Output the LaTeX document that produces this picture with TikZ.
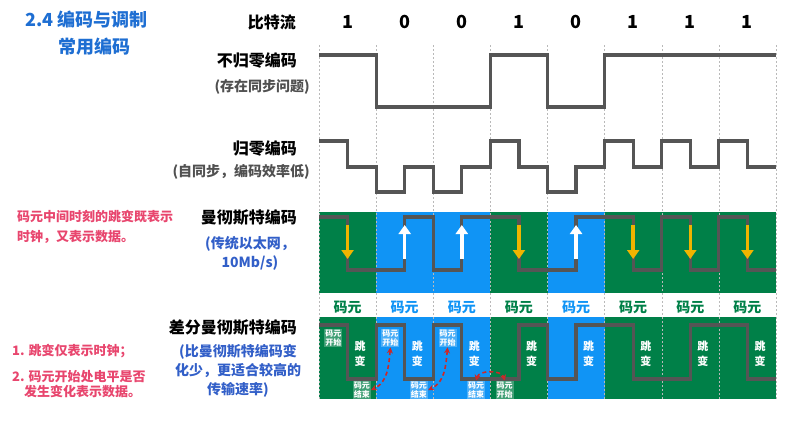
\documentclass[tikz,border=0pt]{standalone}
\usepackage{fontspec}
\setmainfont{Noto Sans CJK SC}
\usepackage{tikz}
\usetikzlibrary{arrows.meta, positioning}
\definecolor{wavegray}{RGB}{85,85,85}
\definecolor{cellgreen}{RGB}{0,128,72}
\definecolor{cellblue}{RGB}{16,148,245}
\definecolor{titleblue}{RGB}{30,110,210}
\definecolor{noteblue}{RGB}{50,95,200}
\definecolor{notepink}{RGB}{232,70,110}
\definecolor{arrowamber}{RGB}{240,180,0}
\definecolor{dashred}{RGB}{205,40,40}
\definecolor{gridgray}{RGB}{185,185,185}
\definecolor{subgray}{RGB}{80,80,80}
\tikzset{
  titletext/.style={font=\fontsize{18}{20}\selectfont\bfseries, color=titleblue},
  rowname/.style={font=\fontsize{16}{18}\selectfont\bfseries, anchor=east, inner sep=0pt},
  rownote/.style={font=\fontsize{14}{16}\selectfont\bfseries, color=subgray, anchor=east, inner sep=0pt},
  bluenote/.style={font=\fontsize{14}{19}\selectfont\bfseries, color=noteblue, align=center, inner sep=0pt},
  pinknote/.style={font=\fontsize{13}{14.5}\selectfont\bfseries, color=notepink, align=left, anchor=west, inner sep=0pt},
  bitdigit/.style={font=\fontsize{18}{20}\selectfont\bfseries},
  celltag/.style={font=\fontsize{14}{16}\selectfont\bfseries},
  gridline/.style={thin, color=gridgray, dash pattern=on 2pt off 2pt},
  wave/.style={line width=3.2pt, color=wavegray, line join=miter},
  fallarrow/.style={-{Triangle[width=12pt,length=9pt]}, line width=3.6pt, color=arrowamber},
  risearrow/.style={-{Triangle[width=12pt,length=9pt]}, line width=3.6pt, color=white},
  edgetag/.style={font=\fontsize{8}{9}\selectfont\bfseries, text=white, fill=white,
    fill opacity=0.25, text opacity=1, inner sep=1pt, align=center},
  jumptag/.style={font=\fontsize{11}{15}\selectfont\bfseries, text=white, align=center, inner sep=0pt},
  linkarrow/.style={{Stealth[length=6pt,width=6pt]}-{Stealth[length=6pt,width=6pt]},
    dash pattern=on 4pt off 3pt, line width=1.6pt, color=dashred}
}
\begin{document}
\begin{tikzpicture}[x=1pt, y=-1pt]
  \useasboundingbox (0,0) rectangle (803,431);

  % Titles
  \node[titletext, anchor=west] (title) at (22,20) {2.4 编码与调制};
  \node[titletext] (subtitle) at (94,47) {常用编码};

  % Row names and notes
  \node[rowname] (bitrow) at (296,22) {比特流};
  \node[rowname] (nrz) at (297,60) {不归零编码};
  \node[rownote] (nrznote) at (310,87) {(存在同步问题)};
  \node[rowname] (rz) at (297,148) {归零编码};
  \node[rownote] (rznote) at (310,172) {(自同步，编码效率低)};
  \node[rowname] (manch) at (297,218) {曼彻斯特编码};
  \node[bluenote] (manchnote) at (250,253) {(传统以太网，\\10Mb/s)};
  \node[rowname] (diff) at (297,328) {差分曼彻斯特编码};
  \node[bluenote] (diffnote) at (238,371) {(比曼彻斯特编码变\\化少，更适合较高的\\传输速率)};

  % Side remarks
  \node[pinknote, font=\fontsize{13}{20}\selectfont\bfseries] (manchhint) at (17,227) {码元中间时刻的跳变既表示\\时钟，又表示数据。};
  \node[pinknote] (diffhint1) at (12,351) {1. 跳变仅表示时钟；};
  \node[pinknote] (diffhint2) at (12,384) {2. 码元开始处电平是否\\\hspace*{12pt}发生变化表示数据。};

  \begin{scope}[xshift=319pt, x=57.125pt]
    % Cell backgrounds
    \foreach \i/\c in {0/cellgreen, 1/cellblue, 2/cellblue, 3/cellgreen, 4/cellblue, 5/cellgreen, 6/cellgreen, 7/cellgreen} {
      \fill[\c] (\i,211.7) rectangle (\i+1,293);
      \fill[\c] (\i,316.7) rectangle (\i+1,399);
      \node[celltag, text=\c] (cell\i) at (\i+0.5,307) {码元};
    }
    % Bit grid
    \foreach \i in {0,...,8} \draw[gridline] (\i,45) -- (\i,400);
    \foreach \b [count=\i from 0] in {1,0,0,1,0,1,1,1}
      \node[bitdigit] (bit\i) at (\i+0.5,22) {\b};

    % NRZ
    \draw[wave] (0,55) -| (1,107) -| (3,55) -| (4,107) -| (5,55) -- (8,55);
    % RZ
    \draw[wave] (0,141) -| (.5,167) -| (1,192) -| (1.5,167) -| (2,192) -| (2.5,167)
      -| (3,141) -| (3.5,167) -| (4,192) -| (4.5,167) -| (5,141) -| (5.5,167)
      -| (6,141) -| (6.5,167) -| (7,141) -| (7.5,167) -- (8,167);
    % Manchester
    \draw[wave] (0,217) -| (.5,270) -| (1.5,217) -| (2,270) -| (2.5,217) -| (3.5,270)
      -| (4.5,217) -| (5.5,270) -| (6,217) -| (6.5,270) -| (7,217) -| (7.5,270) -- (8,270);
    \foreach \i in {0,3,5,6,7} \draw[fallarrow] (\i+0.5,225) -- (\i+0.5,259);
    \foreach \i in {1,2,4} \draw[risearrow] (\i+0.5,259) -- (\i+0.5,225);
    % Differential Manchester
    \draw[wave] (0,325) -| (.5,379) -| (1,325) -| (1.5,379) -| (2,325) -| (2.5,379)
      -| (3.5,325) -| (4,379) -| (4.5,325) -| (5.5,379) -| (6.5,325) -| (7.5,379) -- (8,379);

    % Cell start / end tags
    \foreach \i in {0,1,2} {
      \node[edgetag] (start\i) at (\i+0.25,338) {码元\\开始};
      \node[edgetag] (end\i) at (\i+0.75,390) {码元\\结束};
    }
    \node[edgetag] (start3) at (3.25,390) {码元\\开始};
    \foreach \i in {0,...,7} \node[jumptag] (jump\i) at (\i+0.72,354) {跳\\变};

    % Links between tags
    \draw[linkarrow] (start1.south) to[out=-95, in=25] (end0.east);
    \draw[linkarrow] (start2.south) to[out=-95, in=25] (end1.east);
    \draw[linkarrow] (end2.north) to[out=75, in=105] (start3.north);
  \end{scope}
\end{tikzpicture}
\end{document}
